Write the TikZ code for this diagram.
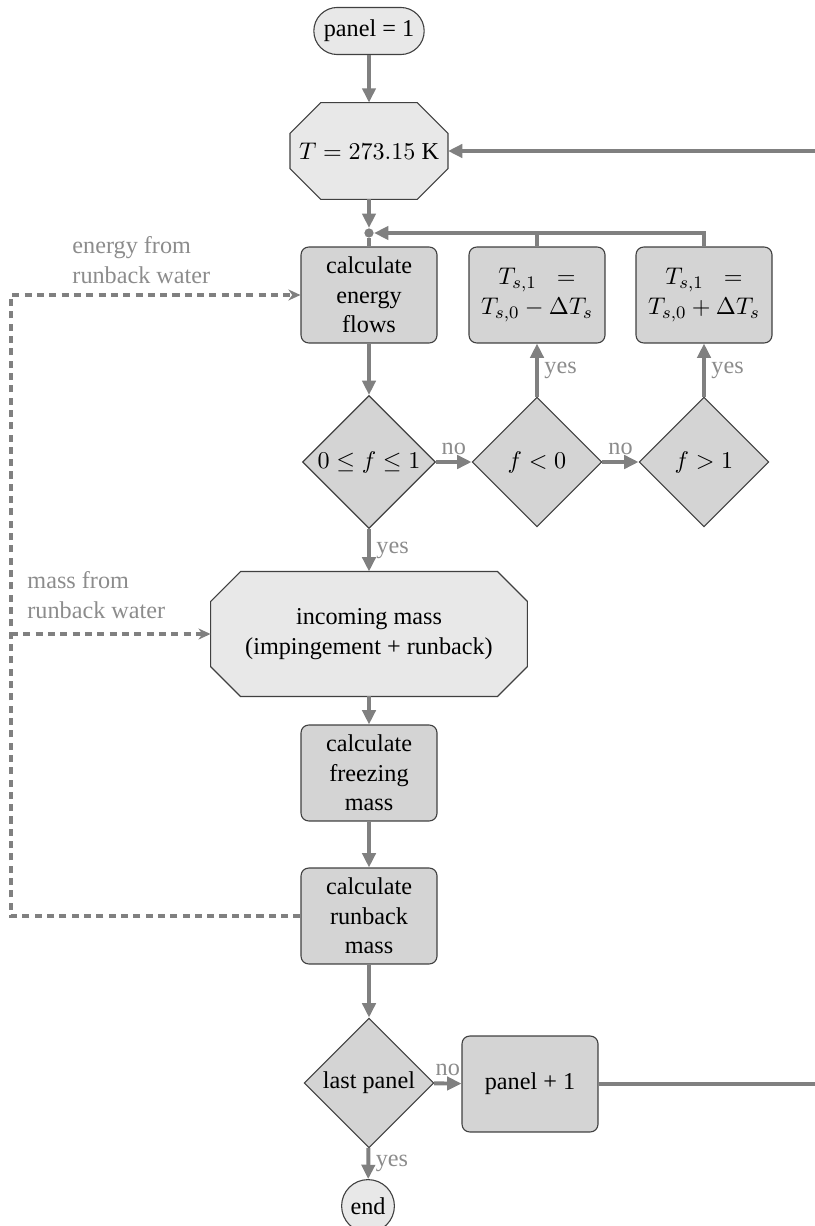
\documentclass[tikz,border=0pt]{standalone}
\usepackage{fontspec}
\setmainfont{Liberation Serif}
\usetikzlibrary{shapes.geometric,shapes.misc,arrows.meta,backgrounds}

\tikzset{
  procbox/.style={draw=black!75, fill=black!17, line width=0.5pt, rounded corners=3.5pt,
    minimum width=61.8pt, minimum height=43.6pt, align=center},
  decision/.style={diamond, draw=black!75, fill=black!17, line width=0.5pt,
    minimum width=59pt, minimum height=59pt, aspect=1, inner sep=1pt},
  octa/.style={rectangle, align=center},
  octaline/.style={draw=black!75, fill=black!9, line width=0.5pt},
  terminal/.style={draw=black!75, fill=black!9, line width=0.5pt},
  joint/.style={circle, fill=black!50, inner sep=0pt, minimum size=4.2pt},
  flow/.style={draw=black!50, line width=1.8pt, -{Triangle[length=6.5pt,width=6pt]}},
  flowline/.style={draw=black!50, line width=1.8pt},
  dashflow/.style={draw=black!50, line width=1.6pt, dash pattern=on 3.2pt off 2.4pt,
    -{Stealth[length=5.5pt,width=5pt]}},
  answer/.style={text=black!45, inner sep=2.5pt},
  remark/.style={text=black!45, align=left, inner sep=0pt},
}

\begin{document}
\begin{tikzpicture}[x=0.4545pt, y=-0.4545pt, font=\fontsize{11pt}{13.4pt}\selectfont]
    \useasboundingbox (0,0) rectangle (815,1226);

    % main column
    \node[terminal, rounded rectangle, minimum width=49pt, minimum height=21.4pt] (start) at (369,31) {panel = 1};
    \node[octa, minimum width=71.4pt, minimum height=43.6pt] (temp) at (369,151) {$T = 273.15$ K};
    \node[joint] (dot) at (369,233) {};
    \node[procbox] (energy) at (369,295) {calculate\\energy\\flows};
    \node[decision] (inrange) at (369,462) {$0 \leq f \leq 1$};
    \node[octa, minimum width=143.6pt, minimum height=56.4pt] (incoming) at (369,634) {incoming mass\\(impingement + runback)};
    \node[procbox] (freezing) at (369,773) {calculate\\freezing\\mass};
    \node[procbox] (runback) at (369,916) {calculate\\runback\\mass};
    \node[decision] (last) at (369,1083) {last panel};
    \node[terminal, circle, minimum size=24pt, inner sep=0pt] (end) at (368,1206) {end};

    % temperature correction
    \node[decision] (neg) at (537,462) {$f < 0$};
    \node[decision] (pos) at (704,462) {$f > 1$};
    \node[procbox] (lower) at (537,295) {$T_{s,1}\;\;=$\\$T_{s,0} - \Delta T_s$};
    \node[procbox] (raise) at (704,295) {$T_{s,1}\;\;=$\\$T_{s,0} + \Delta T_s$};

    % next panel
    \node[procbox] (next) at (530,1084) {panel + 1};

    % octagon outlines behind the text
    \begin{scope}[on background layer]
      \foreach \nd/\cut in {temp/14pt, incoming/13.6pt}
        \draw[octaline] ([xshift=\cut]\nd.north west) -- ([xshift=-\cut]\nd.north east)
          -- ([yshift=-\cut]\nd.north east) -- ([yshift=\cut]\nd.south east)
          -- ([xshift=-\cut]\nd.south east) -- ([xshift=\cut]\nd.south west)
          -- ([yshift=\cut]\nd.south west) -- ([yshift=-\cut]\nd.north west) -- cycle;
    \end{scope}

    \coordinate (loopin) at (815,151);
    \coordinate (loopout) at (815,1084);
    \coordinate (fb) at (11,916);

    \draw[flow] (start) -- (temp);
    \draw[flow] (loopin) -- (temp);
    \draw[flow] (temp) -- (dot);
    \draw[flowline] (dot) -- (energy);
    \draw[flow] (energy) -- (inrange);
    \draw[flow] (inrange) -- node[answer, above] {no} (neg);
    \draw[flow] (neg) -- node[answer, above] {no} (pos);
    \draw[flow] (neg) -- node[answer, right] {yes} (lower);
    \draw[flow] (pos) -- node[answer, right] {yes} (raise);
    \draw[flowline] (lower.north) -- (lower.north |- dot);
    \draw[flow] (raise.north) |- (dot);
    \draw[flow] (inrange) -- node[answer, right] {yes} (incoming);
    \draw[flow] (incoming) -- (freezing);
    \draw[flow] (freezing) -- (runback);
    \draw[flow] (runback) -- (last);
    \draw[flow] (last) -- node[answer, above] {no} (next);
    \draw[flow] (last) -- node[answer, right] {yes} (end);
    \draw[flowline] (next) -- (loopout);

    % runback feedback
    \draw[dashflow] (runback.west) -- (fb) |- (energy.west);
    \draw[dashflow] (fb |- incoming.west) -- (incoming.west);
    \node[remark, anchor=south west] (elabel) at (72,284) {energy from\\runback water};
    \node[remark, anchor=south west] (mlabel) at (27,619) {mass from\\runback water};
\end{tikzpicture}
\end{document}
